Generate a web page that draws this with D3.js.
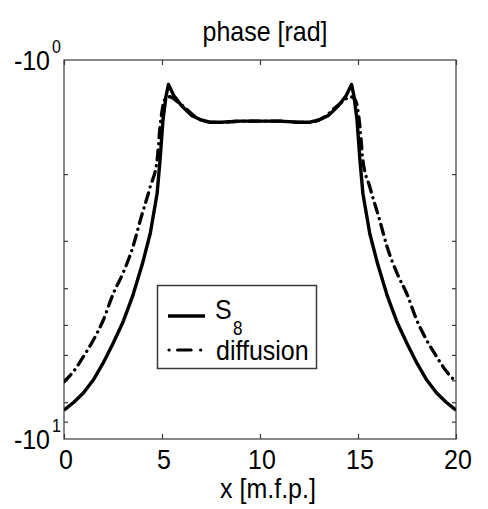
<!DOCTYPE html>
<html>
<head>
<meta charset="utf-8">
<script src="https://cdn.jsdelivr.net/npm/d3@7"></script>
<style>
  html, body { margin: 0; padding: 0; background: #fff; }
  svg { display: block; }
  text { font-family: "Liberation Sans", Arial, Helvetica, sans-serif; fill: #000; }
</style>
</head>
<body>
<div id="chart"></div>
<script>
// ---- data ----
const xTicks = [0, 5, 10, 15, 20];
const yMajor = [-1, -10];
const yMajorExp = ["0", "1"];
const yMinor = [-2, -3, -4, -5, -6, -7, -8, -9];

const s8X = [0, 0.5, 1, 1.5, 2, 2.5, 3, 3.5, 4, 4.4, 4.75, 4.9, 5.05, 5.2, 5.33, 5.6, 6.0, 6.5, 7.0, 7.5, 8, 9, 10,
             11, 12, 12.5, 13, 13.5, 14, 14.4, 14.67, 14.8, 14.95, 15.1, 15.25, 15.6, 16, 16.5, 17, 17.5, 18, 18.5, 19, 19.5, 20];
const s8Y = [-8.4, -8.0, -7.55, -6.98, -6.3, -5.6, -4.93, -4.2, -3.45, -2.87, -2.25, -1.84, -1.44, -1.25, -1.16, -1.24, -1.32, -1.40, -1.44, -1.46, -1.46, -1.45, -1.45,
             -1.45, -1.46, -1.46, -1.44, -1.40, -1.32, -1.24, -1.16, -1.25, -1.44, -1.84, -2.25, -2.87, -3.45, -4.2, -4.93, -5.6, -6.3, -6.98, -7.55, -8.0, -8.4];

const difX = [0, 0.5, 1, 1.5, 2, 2.5, 3, 3.5, 3.9, 4.4, 4.75, 4.9, 5.15, 5.4, 5.8, 6.2, 6.6, 7, 7.5, 8, 9, 10,
              11, 12, 12.5, 13, 13.4, 13.8, 14.2, 14.6, 14.85, 15.1, 15.25, 15.6, 16.1, 16.5, 17, 17.5, 18, 18.5, 19, 19.5, 20];
const difY = [-7.06, -6.62, -6.05, -5.48, -4.86, -4.15, -3.66, -3.13, -2.64, -2.16, -1.84, -1.50, -1.27, -1.25, -1.29, -1.34, -1.40, -1.44, -1.46, -1.46, -1.45, -1.45,
              -1.45, -1.46, -1.46, -1.44, -1.40, -1.34, -1.29, -1.25, -1.27, -1.50, -1.84, -2.16, -2.64, -3.13, -3.66, -4.15, -4.86, -5.48, -6.05, -6.62, -7.06];

const seriesNames = ["S", "diffusion"];
const seriesSub = "8";

// ---- layout ----
const W = 488, H = 509;
const L = 64, R = 456, T = 60, B = 439;
const SY = 1.14; // vertical stretch of the text as in the reference

const svg = d3.select("#chart").append("svg").attr("width", W).attr("height", H);

const x = d3.scaleLinear().domain([0, 20]).range([L, R]);
const y = d3.scaleLog().domain([-1, -10]).range([T, B]);

const frameColor = "#3a3a3a";

function label(parent, px, py, txt, size, anchor) {
  const g = parent.append("g").attr("transform", `translate(${px},${py}) scale(1,${SY})`);
  return g.append("text").attr("text-anchor", anchor || "start").style("font-size", size + "px").text(txt);
}

// frame
svg.append("rect").attr("x", L).attr("y", T).attr("width", R - L).attr("height", B - T)
  .attr("fill", "none").attr("stroke", frameColor).attr("stroke-width", 1.2);

// ticks (inward)
const xAxisB = d3.axisBottom(x).tickValues(xTicks).tickSize(-5).tickFormat("");
const xAxisT = d3.axisTop(x).tickValues(xTicks).tickSize(-5).tickFormat("");
const yAxisL = d3.axisLeft(y).tickValues(yMinor).tickSize(-4).tickFormat("");
const yAxisR = d3.axisRight(y).tickValues(yMinor).tickSize(-4).tickFormat("");

function styleAxis(g) {
  g.select(".domain").remove();
  g.selectAll(".tick line").attr("stroke", frameColor).attr("stroke-width", 1.2);
}
svg.append("g").attr("transform", `translate(0,${B})`).call(xAxisB).call(styleAxis);
svg.append("g").attr("transform", `translate(0,${T})`).call(xAxisT).call(styleAxis);
svg.append("g").attr("transform", `translate(${L},0)`).call(yAxisL).call(styleAxis);
svg.append("g").attr("transform", `translate(${R},0)`).call(yAxisR).call(styleAxis);

// x tick labels
xTicks.forEach(d => label(svg, x(d) + 2, 469, d, 25, "middle"));

// y tick labels with superscripts
yMajor.forEach((v, i) => {
  const yy = y(v);
  label(svg, 50, yy + 10, "-10", 25, "end");
  label(svg, 52, yy - 7, yMajorExp[i], 16, "start");
});

// title & axis label
label(svg, 265, 41, "phase [rad]", 25, "middle");
label(svg, 268, 498, "x [m.f.p.]", 25, "middle");

// curves
const s8Data = s8X.map((v, i) => [v, s8Y[i]]);
const difData = difX.map((v, i) => [v, difY[i]]);

svg.append("clipPath").attr("id", "clip").append("rect")
  .attr("x", L).attr("y", T).attr("width", R - L).attr("height", B - T);

const lineSmooth = d3.line().x(d => x(d[0])).y(d => y(d[1])).curve(d3.curveMonotoneX);
const lineSharp = d3.line().x(d => x(d[0])).y(d => y(d[1]));

svg.append("path").datum(difData).attr("d", lineSmooth)
  .attr("fill", "none").attr("stroke", "#000").attr("stroke-width", 3.3)
  .attr("stroke-dasharray", "10,6,0.1,6").attr("stroke-linecap", "round")
  .attr("clip-path", "url(#clip)");

svg.append("path").datum(s8Data).attr("d", lineSharp)
  .attr("fill", "none").attr("stroke", "#000").attr("stroke-width", 3.4)
  .attr("stroke-linejoin", "round")
  .attr("clip-path", "url(#clip)");

// legend
const lg = svg.append("g");
lg.append("rect").attr("x", 157.5).attr("y", 285.5).attr("width", 159).attr("height", 83)
  .attr("fill", "#fff").attr("stroke", frameColor).attr("stroke-width", 1.5);
lg.append("line").attr("x1", 168).attr("x2", 205).attr("y1", 316).attr("y2", 316)
  .attr("stroke", "#000").attr("stroke-width", 3.4);
lg.append("line").attr("x1", 169).attr("x2", 201).attr("y1", 350).attr("y2", 350)
  .attr("stroke", "#000").attr("stroke-width", 3.2).attr("stroke-linecap", "round")
  .attr("stroke-dasharray", "0.1,8.5,13.5,9.5,0.1,20");
label(lg, 215, 319, seriesNames[0], 25, "start");
label(lg, 233, 335, seriesSub, 17, "start");
label(lg, 216, 360, seriesNames[1], 25, "start");
</script>
</body>
</html>
